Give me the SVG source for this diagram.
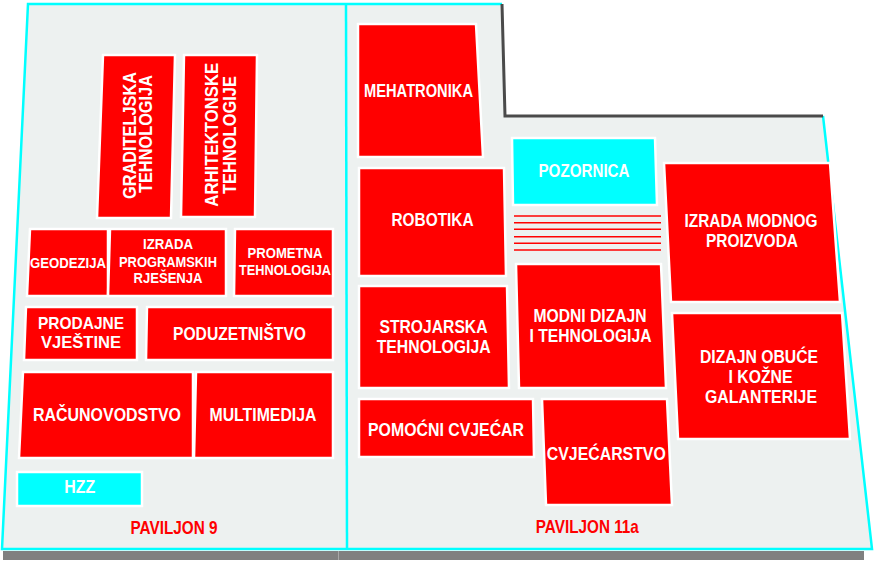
<svg xmlns="http://www.w3.org/2000/svg" width="879" height="564" viewBox="0 0 879 564">
<style>
.bg{fill:#edf1f0;stroke:none}
.cy{fill:none;stroke:#00ffff;stroke-width:2.5;stroke-linejoin:miter}
.wall{fill:none;stroke:#4a4a4a;stroke-width:3}
.box{fill:#ff0000;stroke:#ffffff;stroke-width:2.5}
.cbox{fill:#00ffff;stroke:#ffffff;stroke-width:2.5}
.t{font-family:"Liberation Sans",Arial,sans-serif;font-weight:bold;fill:#ffffff;text-anchor:middle}
.p{font-family:"Liberation Sans",Arial,sans-serif;font-weight:bold;fill:#ff0000;text-anchor:middle;font-size:18.5px}
.st{stroke:#ff0000;stroke-width:1.6}
</style>
<rect width="879" height="564" fill="#ffffff"/>
<g id="shadow">
<rect x="3" y="551" width="861" height="9" fill="#808080"/>
<line x1="338.5" y1="551" x2="338.5" y2="560" stroke="#a8a8a8" stroke-width="1"/>
</g>
<g id="floor">
<polygon class="bg" points="28,4 346,4 347,549 2,549"/>
<polygon class="bg" points="346,4 502,4 505,116 823,116 872,549 347,549"/>
<polyline class="cy" points="502,4 28,4 2,549 872,549 823,116"/>
<line class="cy" x1="346" y1="4" x2="347" y2="549"/>
<polyline class="wall" points="502,4 505,116 823,116"/>
</g>
<g id="graditeljska">
<polygon class="box" points="103,55 175,55 171,218 97,218"/>
<text class="t" font-size="17.5" transform="translate(136,135.5) rotate(-90)" textLength="127" lengthAdjust="spacingAndGlyphs">GRADITELJSKA</text>
<text class="t" font-size="17.5" transform="translate(152,134) rotate(-90)" textLength="118" lengthAdjust="spacingAndGlyphs">TEHNOLOGIJA</text>
</g>
<g id="arhitektonske">
<polygon class="box" points="184,55 257,55 255,217 181,217"/>
<text class="t" font-size="17.5" transform="translate(217.5,134.7) rotate(-90)" textLength="144" lengthAdjust="spacingAndGlyphs">ARHITEKTONSKE</text>
<text class="t" font-size="17.5" transform="translate(236,135) rotate(-90)" textLength="118" lengthAdjust="spacingAndGlyphs">TEHNOLOGIJE</text>
</g>
<g id="geodezija">
<polygon class="box" points="30,229 108,229 108,296 27,296"/>
<text class="t" font-size="14.5" x="68" y="267.7" textLength="76" lengthAdjust="spacingAndGlyphs">GEODEZIJA</text>
</g>
<g id="izrada-programskih">
<polygon class="box" points="110,229 226,229 226,296 108,296"/>
<text class="t" font-size="14.5" x="168" y="249.3" textLength="50" lengthAdjust="spacingAndGlyphs">IZRADA</text>
<text class="t" font-size="14.5" x="168" y="266.7" textLength="98" lengthAdjust="spacingAndGlyphs">PROGRAMSKIH</text>
<text class="t" font-size="14.5" x="168" y="283.3" textLength="69" lengthAdjust="spacingAndGlyphs">RJEŠENJA</text>
</g>
<g id="prometna">
<polygon class="box" points="235,229 333,229 333,296 234,296"/>
<text class="t" font-size="14.5" x="285" y="258.3" textLength="75" lengthAdjust="spacingAndGlyphs">PROMETNA</text>
<text class="t" font-size="14.5" x="285" y="275" textLength="92" lengthAdjust="spacingAndGlyphs">TEHNOLOGIJA</text>
</g>
<g id="prodajne">
<polygon class="box" points="26,307 137,307 137,360 24,360"/>
<text class="t" font-size="17" x="81" y="329.3" textLength="86" lengthAdjust="spacingAndGlyphs">PRODAJNE</text>
<text class="t" font-size="17" x="81" y="348.3" textLength="80" lengthAdjust="spacingAndGlyphs">VJEŠTINE</text>
</g>
<g id="poduzetnistvo">
<polygon class="box" points="147,307 333,307 333,360 146,360"/>
<text class="t" font-size="18" x="239.5" y="340" textLength="133" lengthAdjust="spacingAndGlyphs">PODUZETNIŠTVO</text>
</g>
<g id="racunovodstvo">
<polygon class="box" points="23,372 193,372 193,458 19,458"/>
<text class="t" font-size="19" x="107" y="420.7" textLength="148" lengthAdjust="spacingAndGlyphs">RAČUNOVODSTVO</text>
</g>
<g id="multimedija">
<polygon class="box" points="196,372 333,372 333,458 194,458"/>
<text class="t" font-size="19" x="263" y="420.7" textLength="107" lengthAdjust="spacingAndGlyphs">MULTIMEDIJA</text>
</g>
<g id="hzz">
<polygon class="cbox" points="17,472 142,472 142,506 17,506"/>
<text class="t" font-size="18" x="79.7" y="493.3" textLength="31" lengthAdjust="spacingAndGlyphs">HZZ</text>
</g>
<g id="paviljon9">
<text class="p" x="174" y="534" textLength="87" lengthAdjust="spacingAndGlyphs">PAVILJON 9</text>
</g>
<g id="mehatronika">
<polygon class="box" points="358,24 476,24 483,157 358,157"/>
<text class="t" font-size="18" x="418.5" y="97" textLength="109" lengthAdjust="spacingAndGlyphs">MEHATRONIKA</text>
</g>
<g id="robotika">
<polygon class="box" points="359,168 504,168 506,276 359,276"/>
<text class="t" font-size="18" x="432.5" y="226" textLength="82" lengthAdjust="spacingAndGlyphs">ROBOTIKA</text>
</g>
<g id="strojarska">
<polygon class="box" points="359,286 507,286 509,388 359,388"/>
<text class="t" font-size="18" x="433.5" y="332.7" textLength="108" lengthAdjust="spacingAndGlyphs">STROJARSKA</text>
<text class="t" font-size="18" x="433.7" y="353.3" textLength="114" lengthAdjust="spacingAndGlyphs">TEHNOLOGIJA</text>
</g>
<g id="pomocni-cvjecar">
<polygon class="box" points="359,399 533,399 534,457 359,457"/>
<text class="t" font-size="18" x="446" y="436" textLength="156" lengthAdjust="spacingAndGlyphs">POMOĆNI CVJEĆAR</text>
</g>
<g id="pozornica">
<polygon class="cbox" points="512,138 655,138 657,205 513,205"/>
<text class="t" font-size="18" x="584" y="177.3" textLength="91" lengthAdjust="spacingAndGlyphs">POZORNICA</text>
</g>
<g id="stage-stripes">
<line class="st" x1="514" y1="216" x2="661" y2="216"/>
<line class="st" x1="514" y1="222.7" x2="661" y2="222.7"/>
<line class="st" x1="514" y1="229.3" x2="661" y2="229.3"/>
<line class="st" x1="514" y1="236.7" x2="661" y2="236.7"/>
<line class="st" x1="514" y1="243.3" x2="661" y2="243.3"/>
<line class="st" x1="514" y1="250" x2="661" y2="250"/>
</g>
<g id="modni-dizajn">
<polygon class="box" points="516,264 661,264 666,388 519,388"/>
<text class="t" font-size="18" x="590" y="321.7" textLength="113" lengthAdjust="spacingAndGlyphs">MODNI DIZAJN</text>
<text class="t" font-size="18" x="590.5" y="341.7" textLength="122" lengthAdjust="spacingAndGlyphs">I TEHNOLOGIJA</text>
</g>
<g id="cvjecarstvo">
<polygon class="box" points="542,399 667,399 672,505 546,505"/>
<text class="t" font-size="18" x="606.3" y="460" textLength="119" lengthAdjust="spacingAndGlyphs">CVJEĆARSTVO</text>
</g>
<g id="izrada-modnog">
<polygon class="box" points="664,163 830,163 840,302 671,302"/>
<text class="t" font-size="18" x="751" y="227.3" textLength="133" lengthAdjust="spacingAndGlyphs">IZRADA MODNOG</text>
<text class="t" font-size="18" x="752" y="247.3" textLength="92" lengthAdjust="spacingAndGlyphs">PROIZVODA</text>
</g>
<g id="dizajn-obuce">
<polygon class="box" points="672,313 842,313 850,439 678,439"/>
<text class="t" font-size="18" x="759" y="363.3" textLength="118" lengthAdjust="spacingAndGlyphs">DIZAJN OBUĆE</text>
<text class="t" font-size="18" x="760.5" y="383.3" textLength="64" lengthAdjust="spacingAndGlyphs">I KOŽNE</text>
<text class="t" font-size="18" x="761" y="403.3" textLength="112" lengthAdjust="spacingAndGlyphs">GALANTERIJE</text>
</g>
<g id="paviljon11a">
<text class="p" x="587.3" y="533.3" textLength="103" lengthAdjust="spacingAndGlyphs">PAVILJON 11a</text>
</g>
</svg>
